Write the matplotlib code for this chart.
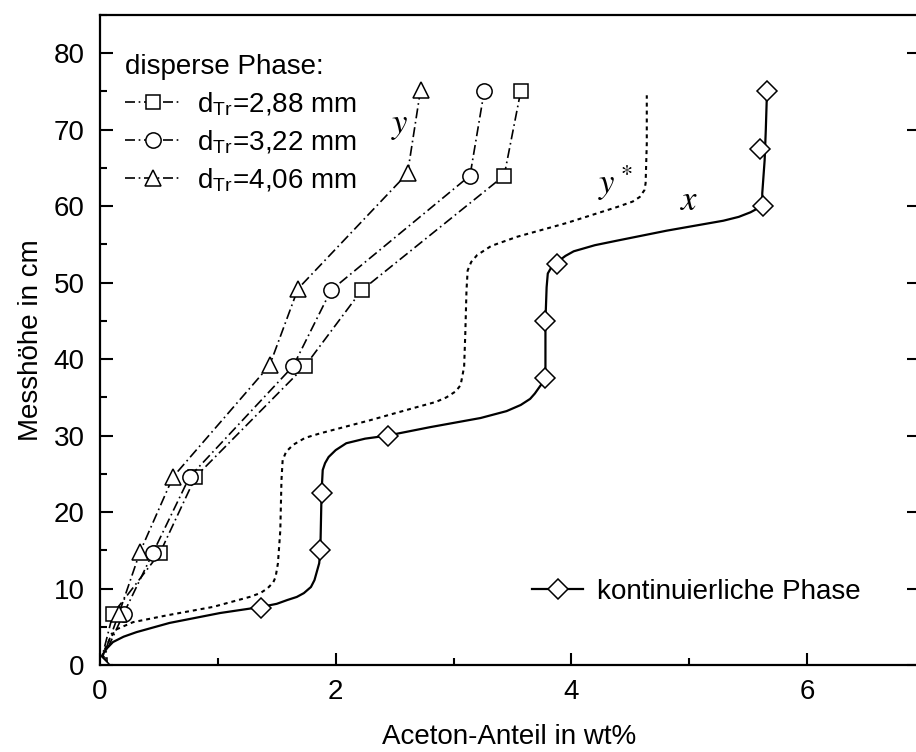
import matplotlib
matplotlib.use("Agg")
import matplotlib.pyplot as plt
from matplotlib.ticker import MultipleLocator

plt.rcParams['font.family'] = ['Liberation Sans', 'DejaVu Sans']
plt.rcParams['mathtext.fontset'] = 'stix'

# ---- data: disperse phase (y) ----
h_disp = [0, 6.7, 14.7, 24.6, 39.1, 49, 64, 75]
x_288 = [0, 0.11, 0.51, 0.81, 1.74, 2.22, 3.43, 3.57]
x_322 = [0, 0.20, 0.45, 0.76, 1.64, 1.96, 3.14, 3.26]
h_406 = [0, 6.7, 14.8, 24.6, 39.2, 49.2, 64.3, 75.2]
x_406 = [0, 0.16, 0.34, 0.62, 1.44, 1.68, 2.61, 2.72]

# ---- data: continuous phase (x) markers ----
h_cont = [0, 7.5, 15, 22.5, 30, 37.5, 45, 52.5, 60, 67.5, 75]
x_cont = [0, 1.37, 1.87, 1.88, 2.44, 3.78, 3.78, 3.88, 5.63, 5.60, 5.66]

# ---- traced curve: continuous phase x ----
curve_x_x = [0, 0.02, 0.06, 0.11, 0.2, 0.31, 0.59, 1.02, 1.37, 1.50, 1.59, 1.67, 1.73, 1.79,
             1.82, 1.86, 1.87, 1.88, 1.89, 1.91, 1.94, 2.0, 2.09, 2.25, 2.44, 2.80,
             3.23, 3.45, 3.57, 3.65, 3.69, 3.75, 3.78, 3.78, 3.79, 3.80, 3.83, 3.88,
             3.95, 4.02, 4.2, 4.39, 4.81, 5.29, 5.42, 5.52, 5.58, 5.62, 5.62,
             5.64, 5.65, 5.66]
curve_x_h = [0, 1.3, 2.2, 3.0, 3.7, 4.3, 5.5, 6.8, 7.6, 8.0, 8.5, 8.9, 9.4, 10.2,
             11.1, 13.3, 15, 22.5, 25.5, 26.4, 27.2, 28.1, 29.0, 29.6, 30.0, 31.1,
             32.3, 33.2, 34.0, 34.8, 35.5, 36.8, 37.5, 45, 49.4, 51.2, 52.0, 52.7,
             53.5, 54.1, 54.9, 55.5, 56.8, 58.1, 58.6, 59.2, 59.7, 60.3, 61.7,
             66, 70, 75]

# ---- traced curve: equilibrium y* ----
curve_ys_x = [0, 0.04, 0.08, 0.13, 0.28, 0.57, 0.96, 1.27, 1.36, 1.42, 1.47, 1.49, 1.51, 1.53,
              1.54, 1.55, 1.58, 1.64, 1.74, 1.87, 2.29, 2.66, 2.85, 2.94, 3.02, 3.06, 3.09,
              3.10, 3.11, 3.12, 3.15, 3.20, 3.32, 3.54, 3.96, 4.39, 4.52, 4.58, 4.62, 4.63,
              4.64, 4.64]
curve_ys_h = [0, 2.0, 3.3, 4.6, 5.6, 6.5, 7.6, 8.9, 9.4, 10.0, 10.8, 11.5, 13.3, 17.6,
              24.2, 26.8, 27.9, 28.8, 29.7, 30.3, 32.0, 33.6, 34.4, 35.0, 35.8, 36.6, 39.0,
              43.4, 49.0, 51.6, 52.7, 53.6, 54.8, 56.0, 57.8, 59.9, 60.6, 61.2, 62.1, 63.0,
              68.2, 74.5]

labels_disp = ['d$_{\\mathregular{Tr}}$=2,88 mm', 'd$_{\\mathregular{Tr}}$=3,22 mm',
               'd$_{\\mathregular{Tr}}$=4,06 mm']

FS = 20
fig = plt.figure(figsize=(9.16, 7.52), dpi=100)
ax = fig.add_axes([100/916, 87/752, 819/916, 650/752])

dashdot = (0, (6, 2.2, 1, 2.2))
mk = dict(mfc='white', mec='black', mew=1.1, color='black', lw=1.2, ls=dashdot)
l1, = ax.plot(x_288, h_disp, marker='s', ms=10, label=labels_disp[0], **mk)
l2, = ax.plot(x_322, h_disp, marker='o', ms=11, label=labels_disp[1], **mk)
l3, = ax.plot(x_406, h_406, marker='^', ms=12, label=labels_disp[2], **mk)

ax.plot(curve_ys_x, curve_ys_h, color='black', lw=1.5, ls=(0, (1.9, 1.9)))
ax.plot(curve_x_x, curve_x_h, color='black', lw=1.6, ls='-')
ax.plot(x_cont, h_cont, ls='none', marker='D', ms=10, mfc='white', mec='black', mew=1.1)

lc, = ax.plot([], [], color='black', lw=1.6, marker='D', ms=10, mfc='white', mec='black',
              mew=1.1, label='kontinuierliche Phase')

leg1 = ax.legend(handles=[l1, l2, l3], title='disperse Phase:', loc='upper left',
                 bbox_to_anchor=(25/819, 0.94), frameon=False, fontsize=FS, title_fontsize=FS,
                 handlelength=2.0, handletextpad=0.6, labelspacing=0.39, borderaxespad=0,
                 borderpad=0, alignment='left')
ax.add_artist(leg1)
ax.legend(handles=[lc], loc='center left', bbox_to_anchor=(432/819, 73/650), frameon=False,
          fontsize=FS, handlelength=1.85, handletextpad=0.5, borderaxespad=0, borderpad=0)

ax.text(2.54, 70.5, '$y$', fontsize=25, ha='center', va='center')
ax.text(4.37, 63.0, '$y^*$', fontsize=25, ha='center', va='center')
ax.text(5.0, 60.8, '$x$', fontsize=25, ha='center', va='center')

ax.set_xlim(0, 6.95)
ax.set_ylim(0, 85)
ax.xaxis.set_major_locator(MultipleLocator(2))
ax.xaxis.set_minor_locator(MultipleLocator(1))
ax.yaxis.set_major_locator(MultipleLocator(10))
ax.yaxis.set_minor_locator(MultipleLocator(5))
ax.tick_params(which='both', direction='in', top=False, width=1.5, labelsize=FS)
ax.tick_params(which='major', length=9, right=True)
ax.tick_params(which='minor', length=5, right=False)
ax.tick_params(axis='x', which='major', pad=10)
ax.tick_params(axis='y', which='major', pad=11)
for s in ax.spines.values():
    s.set_linewidth(1.6)

ax.set_xlabel('Aceton-Anteil in wt%', fontsize=FS, labelpad=14)
ax.set_ylabel('Messhöhe in cm', fontsize=FS, labelpad=7)

fig.savefig('out.png', dpi=100)
